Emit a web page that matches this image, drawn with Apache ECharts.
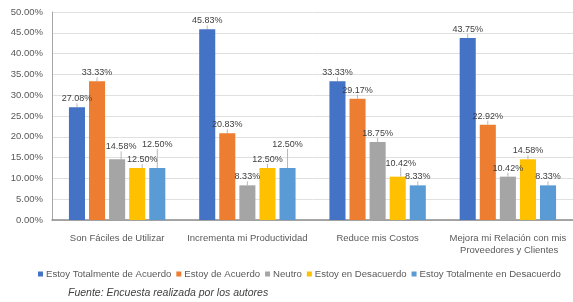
<!DOCTYPE html>
<html>
<head>
<meta charset="utf-8">
<script src="https://cdn.jsdelivr.net/npm/echarts@6/dist/echarts.min.js"></script>
<style>
  html, body { margin: 0; padding: 0; background: #fff; }
  #chart { width: 573px; height: 302px; }
</style>
</head>
<body>
<div id="chart"></div>
<script>
const categories = ['Son Fáciles de Utilizar', 'Incrementa mi Productividad', 'Reduce mis Costos', 'Mejora mi Relación con mis Proveedores y Clientes'];
const seriesNames = ['Estoy Totalmente de Acuerdo', 'Estoy de Acuerdo', 'Neutro', 'Estoy en Desacuerdo', 'Estoy Totalmente en Desacuerdo'];
const totalmenteAcuerdo = [27.08, 45.83, 33.33, 43.75];
const deAcuerdo = [33.33, 20.83, 29.17, 22.92];
const neutro = [14.58, 8.33, 18.75, 10.42];
const enDesacuerdo = [12.50, 12.50, 10.42, 14.58];
const totalmenteDesacuerdo = [12.50, 12.50, 8.33, 8.33];
const yTicks = [0, 5, 10, 15, 20, 25, 30, 35, 40, 45, 50];

const colors = ['#4472C4', '#ED7D31', '#A5A5A5', '#FFC000', '#5B9BD5'];
const seriesData = [totalmenteAcuerdo, deAcuerdo, neutro, enDesacuerdo, totalmenteDesacuerdo];

// labels moved by hand in the original (series index, category index) -> [dx, dy]
const labelMoves = {
  '2-0': [4, -4],
  '3-0': [5, 0],
  '4-0': [0, -15],
  '4-1': [0, -15],
  '3-2': [3, -5]
};

const font = 'Liberation Sans, Arial, sans-serif';
const chart = echarts.init(document.getElementById('chart'));

const series = seriesData.map((data, i) => ({
  name: seriesNames[i],
  type: 'bar',
  data: data,
  barGap: '25%',
  barCategoryGap: '26%',
  itemStyle: { color: colors[i] },
  label: {
    show: true,
    position: 'top',
    distance: 4,
    color: '#404040',
    fontSize: 9,
    fontFamily: font,
    formatter: p => p.value.toFixed(2) + '%'
  },
  labelLine: { show: true, lineStyle: { color: '#a6a6a6', width: 0.8 } },
  labelLayout: p => {
    const m = labelMoves[p.seriesIndex + '-' + p.dataIndex];
    return m ? { dx: m[0], dy: m[1] } : {};
  }
}));

const option = {
  animation: false,
  color: colors,
  grid: {
    left: 52,
    right: 0,
    top: 12,
    bottom: 82
  },
  legend: {
    data: seriesNames,
    top: 264,
    left: 33,
    icon: 'rect',
    itemWidth: 5,
    itemHeight: 5,
    itemGap: 5,
    textStyle: { color: '#595959', fontSize: 9.6, fontFamily: font, padding: [0, 0, 0, -2] }
  },
  xAxis: {
    type: 'category',
    data: categories,
    axisTick: { show: false },
    axisLine: { lineStyle: { color: '#8c8c8c', width: 1.5 } },
    axisLabel: {
      color: '#595959',
      fontSize: 9.5,
      fontFamily: font,
      margin: 12,
      interval: 0,
      width: 122,
      overflow: 'break',
      lineHeight: 12
    }
  },
  yAxis: {
    type: 'value',
    min: yTicks[0],
    max: yTicks[yTicks.length - 1],
    interval: 5,
    axisLine: { show: true, lineStyle: { color: '#a6a6a6' } },
    axisTick: { show: false },
    axisLabel: {
      color: '#595959',
      fontSize: 9.5,
      fontFamily: font,
      margin: 9,
      formatter: v => v.toFixed(2) + '%'
    },
    splitLine: { lineStyle: { color: '#e0e0e0' } }
  },
  graphic: [{
    type: 'text',
    left: 68,
    top: 288,
    style: {
      text: 'Fuente: Encuesta realizada por los autores',
      fill: '#404040',
      font: 'italic 10.5px ' + font
    }
  }],
  series: series
};

chart.setOption(option);
</script>
</body>
</html>
